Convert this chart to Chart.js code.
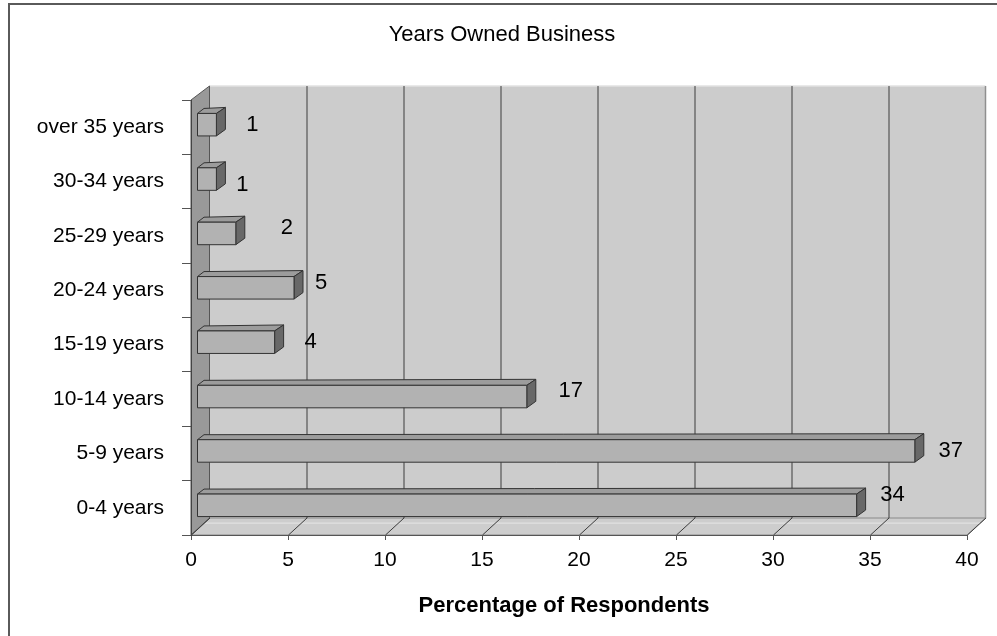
<!DOCTYPE html>
<html>
<head>
<meta charset="utf-8">
<title>Years Owned Business</title>
<script src="https://cdn.jsdelivr.net/npm/chart.js@4/dist/chart.umd.min.js"></script>
<style>
  html, body { margin: 0; padding: 0; background: #ffffff; }
  canvas { display: block; }
</style>
</head>
<body>
<canvas id="chart" width="997" height="636"></canvas>
<script>
// ---- data ----
const categories = ['0-4 years', '5-9 years', '10-14 years', '15-19 years', '20-24 years', '25-29 years', '30-34 years', 'over 35 years'];
const percentages = [34, 37, 17, 4, 5, 2, 1, 1];
const xTickValues = [0, 5, 10, 15, 20, 25, 30, 35, 40];
const chartTitle = 'Years Owned Business';
const xAxisTitle = 'Percentage of Respondents';

// ---- styling ----
const FONT = "'Liberation Sans', Arial, Helvetica, sans-serif";
// small per-bar nudges for the value labels [dx, dy], in category order
const labelNudge = [[0, -10], [0, 0], [8, -6], [0, 0], [-9, -5], [15, -6], [-10, 6], [0, 0]];
const DEPTH_X = 18.5;        // horizontal depth of the walls
const WALL_TOP_DY = -14;     // back wall top relative to plot top
const WALL_BOTTOM_DY = -17;  // back wall bottom relative to plot bottom
const BAR_SHIFT_X = 6;       // bars sit part-way into the depth
const BAR_SHIFT_Y = -2.5;
const LABEL_GAP = 36;

function poly(ctx, pts, fill, stroke) {
  ctx.beginPath();
  ctx.moveTo(pts[0][0], pts[0][1]);
  for (let i = 1; i < pts.length; i++) ctx.lineTo(pts[i][0], pts[i][1]);
  ctx.closePath();
  if (fill) { ctx.fillStyle = fill; ctx.fill(); }
  if (stroke) { ctx.strokeStyle = stroke; ctx.lineWidth = 1; ctx.stroke(); }
}

const scene3d = {
  id: 'scene3d',
  beforeDraw(chart) {
    const { ctx, chartArea: a, scales: { x } } = chart;
    const L = a.left, R = a.right, T = a.top, B = a.bottom;
    ctx.save();

    // frame lines on the top and left edges
    ctx.strokeStyle = '#5a5a5a';
    ctx.lineWidth = 2;
    ctx.beginPath();
    ctx.moveTo(9, 636); ctx.lineTo(9, 4); ctx.lineTo(997, 4);
    ctx.stroke();

    // back wall
    poly(ctx, [[L + DEPTH_X, T + WALL_TOP_DY], [R + DEPTH_X, T + WALL_TOP_DY],
               [R + DEPTH_X, B + WALL_BOTTOM_DY], [L + DEPTH_X, B + WALL_BOTTOM_DY]], '#cccccc', null);
    ctx.strokeStyle = '#e2e2e2'; ctx.lineWidth = 1.5;
    ctx.beginPath(); ctx.moveTo(L + DEPTH_X, T + WALL_TOP_DY); ctx.lineTo(R + DEPTH_X, T + WALL_TOP_DY); ctx.stroke();
    ctx.strokeStyle = '#8f8f8f'; ctx.lineWidth = 1.5;
    ctx.beginPath(); ctx.moveTo(R + DEPTH_X, T + WALL_TOP_DY); ctx.lineTo(R + DEPTH_X, B + WALL_BOTTOM_DY); ctx.stroke();

    // floor
    poly(ctx, [[L, B], [R, B], [R + DEPTH_X, B + WALL_BOTTOM_DY], [L + DEPTH_X, B + WALL_BOTTOM_DY]], '#cdcdcd', '#8a8a8a');
    ctx.strokeStyle = '#e6e6e6'; ctx.lineWidth = 1;
    ctx.beginPath(); ctx.moveTo(L + DEPTH_X * 0.7, B + WALL_BOTTOM_DY * 0.7); ctx.lineTo(R + DEPTH_X * 0.7, B + WALL_BOTTOM_DY * 0.7); ctx.stroke();

    // left side wall
    poly(ctx, [[L, T], [L + DEPTH_X, T + WALL_TOP_DY], [L + DEPTH_X, B + WALL_BOTTOM_DY], [L, B]], '#999999', '#555555');

    // grid lines on the back wall and across the floor
    ctx.strokeStyle = '#3c3c3c';
    ctx.lineWidth = 1;
    x.ticks.forEach(t => {
      const px = Math.round(x.getPixelForValue(t.value)) + 0.5;
      ctx.beginPath();
      ctx.moveTo(px, B);
      ctx.lineTo(px + DEPTH_X, B + WALL_BOTTOM_DY);
      if (t.value > x.min && t.value < x.max) ctx.lineTo(px + DEPTH_X, T + WALL_TOP_DY);
      ctx.stroke();
    });

    // chart title
    ctx.fillStyle = '#000';
    ctx.font = '22px ' + FONT;
    ctx.textAlign = 'center';
    ctx.textBaseline = 'middle';
    ctx.fillText(chartTitle, 502, 35);

    // value axis title
    ctx.font = 'bold 22px ' + FONT;
    ctx.fillText(xAxisTitle, 564, 606);
    ctx.restore();
  },
  afterDatasetsDraw(chart) {
    const { ctx } = chart;
    const meta = chart.getDatasetMeta(0);
    const values = chart.data.datasets[0].data;
    ctx.save();
    ctx.lineJoin = 'round';
    meta.data.forEach((el, i) => {
      const { x, y, base, height } = el.getProps(['x', 'y', 'base', 'height'], true);
      const x0 = base + BAR_SHIFT_X, x1 = x + BAR_SHIFT_X;
      const y0 = y - height / 2 + BAR_SHIFT_Y, y1 = y + height / 2 + BAR_SHIFT_Y;
      // top face
      poly(ctx, [[x0, y0], [x1, y0], [x1 + 9, y0 - 6], [x0 + 6.5, y0 - 5]], '#9c9c9c', '#333333');
      // right end face
      poly(ctx, [[x1, y0], [x1 + 9, y0 - 6], [x1 + 9, y1 - 6.5], [x1, y1]], '#686868', '#333333');
      // front face
      poly(ctx, [[x0, y0], [x1, y0], [x1, y1], [x0, y1]], '#b2b2b2', '#333333');

      // value label
      const n = labelNudge[i] || [0, 0];
      ctx.fillStyle = '#000';
      ctx.font = '22px ' + FONT;
      ctx.textAlign = 'center';
      ctx.textBaseline = 'middle';
      ctx.fillText(String(values[i]), x1 + LABEL_GAP + n[0], y + BAR_SHIFT_Y + n[1]);
    });
    ctx.restore();
  }
};

new Chart(document.getElementById('chart'), {
  type: 'bar',
  data: {
    labels: categories,
    datasets: [{
      label: xAxisTitle,
      data: percentages,
      backgroundColor: 'rgba(0,0,0,0)',
      borderWidth: 0,
      barThickness: 22.5
    }]
  },
  options: {
    indexAxis: 'y',
    responsive: false,
    animation: false,
    events: [],
    layout: { padding: { top: 100, right: 30, left: 0, bottom: 0 } },
    plugins: {
      legend: { display: false },
      title: { display: false },
      tooltip: { enabled: false }
    },
    scales: {
      x: {
        type: 'linear',
        min: 0,
        max: 40,
        afterBuildTicks: s => { s.ticks = xTickValues.map(v => ({ value: v })); },
        afterFit: s => { s.height = 101; },
        ticks: { color: '#000', font: { family: FONT, size: 21 }, padding: 8, maxRotation: 0 },
        grid: { drawOnChartArea: false, tickLength: 5, color: '#555' },
        border: { color: '#555', width: 1 }
      },
      y: {
        type: 'category',
        reverse: true,
        afterFit: s => { s.width = 191; },
        ticks: { color: '#000', font: { family: FONT, size: 21 }, padding: 18 },
        grid: { drawOnChartArea: false, tickLength: 9, color: '#555', offset: true },
        border: { color: '#444', width: 1 }
      }
    }
  },
  plugins: [scene3d]
});
</script>
</body>
</html>
